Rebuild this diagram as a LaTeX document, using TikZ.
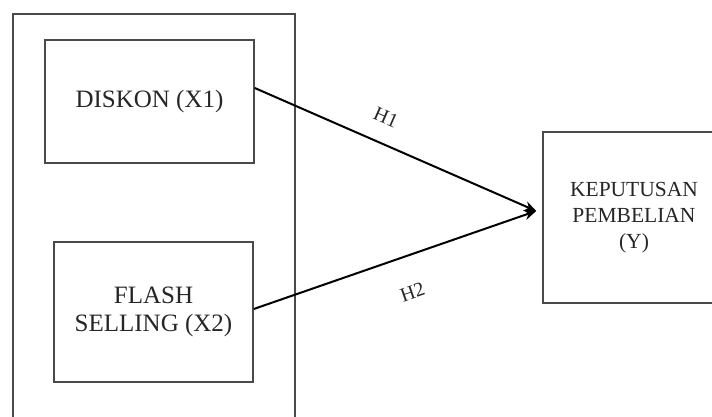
\documentclass[tikz,border=0pt]{standalone}
\usepackage{fontspec}
\setmainfont{Liberation Serif}
\usetikzlibrary{arrows.meta}
\definecolor{boxgray}{HTML}{4A4A4A}
\definecolor{txtgray}{HTML}{262626}
\begin{document}
\begin{tikzpicture}[x=1pt,y=-1pt,
  boxstyle/.style={draw=boxgray, line width=1.5pt, rectangle, inner sep=0pt, align=center,
    text=txtgray, font=\fontsize{25}{28}\selectfont},
  ystyle/.style={boxstyle, font=\fontsize{21.5}{26}\selectfont},
  conn/.style={draw=black, line width=2pt, -{Stealth[length=12pt,width=10pt]}},
  hlabel/.style={text=txtgray, font=\fontsize{20}{24}\selectfont, sloped}
]
\useasboundingbox (0,0) rectangle (712,417);
\begin{scope}
\clip (0,0) rectangle (712,417);
\node[boxstyle, minimum width=282pt, minimum height=408pt] (outer) at (154,218) {};
\node[boxstyle, minimum width=209pt, minimum height=123pt] (box1) at (149.5,101.5) {DISKON (X1)};
\node[boxstyle, minimum width=199pt, minimum height=140pt] (box2) at (153.5,312) {FLASH\\SELLING (X2)};
\node[ystyle, minimum width=182pt, minimum height=171pt] (ybox) at (634,217.5) {KEPUTUSAN\\PEMBELIAN\\(Y)};
\end{scope}
\coordinate (tip) at ([xshift=-6pt,yshift=6.5pt]ybox.west);
\draw[conn] ([yshift=13.5pt]box1.east) -- node[hlabel, pos=0.43, above=14.5pt] (h1) {H1} (tip);
\draw[conn] ([yshift=3pt]box2.east) -- node[hlabel, pos=0.52, below=25pt] (h2) {H2} (tip);
\end{tikzpicture}
\end{document}
